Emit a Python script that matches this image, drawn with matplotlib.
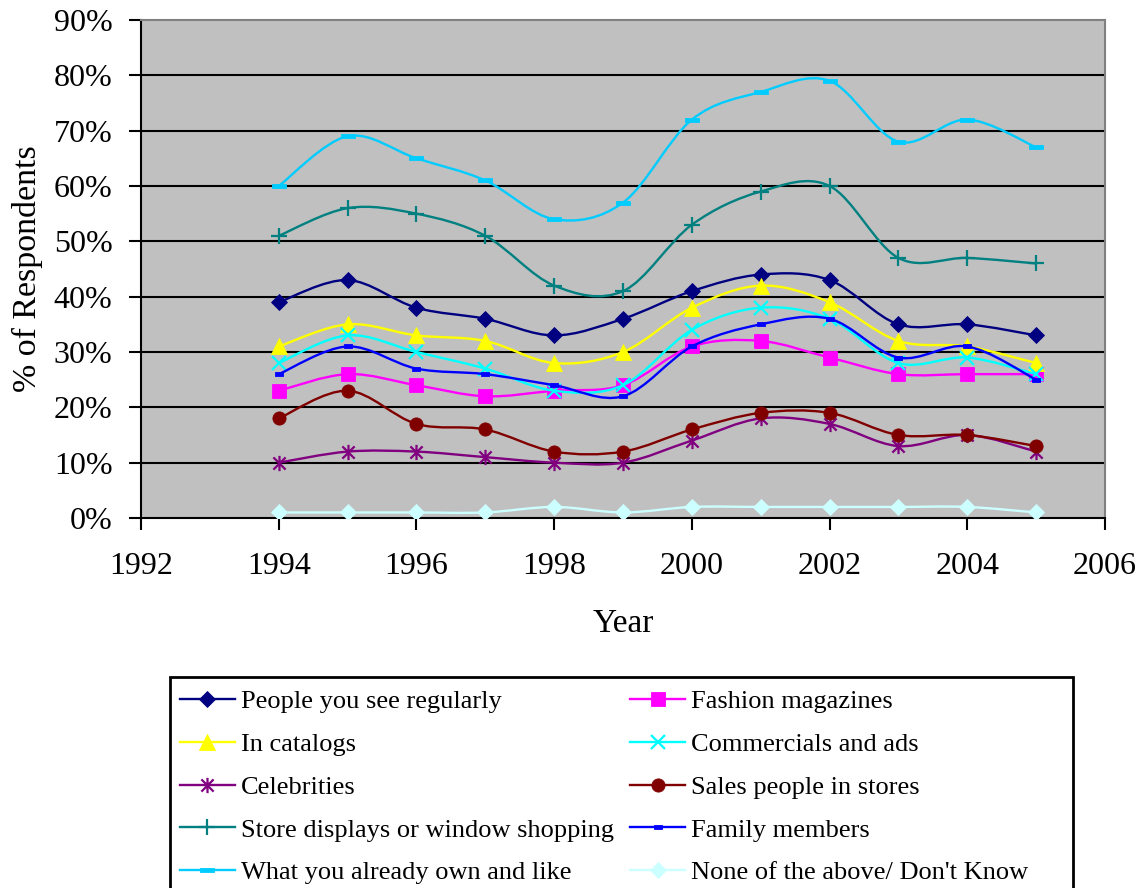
import numpy as np
import matplotlib
matplotlib.use("Agg")
import matplotlib.pyplot as plt
from matplotlib.path import Path
from matplotlib.patches import PathPatch, Rectangle
from matplotlib.lines import Line2D

plt.rcParams['font.family'] = 'Liberation Serif'

years = [1994, 1995, 1996, 1997, 1998, 1999, 2000, 2001, 2002, 2003, 2004, 2005]

people_regularly = [39, 43, 38, 36, 33, 36, 41, 44, 43, 35, 35, 33]
fashion_magazines = [23, 26, 24, 22, 23, 24, 31, 32, 29, 26, 26, 26]
in_catalogs = [31, 35, 33, 32, 28, 30, 38, 42, 39, 32, 31, 28]
commercials_ads = [28, 33, 30, 27, 23, 24, 34, 38, 36, 28, 29, 26]
celebrities = [10, 12, 12, 11, 10, 10, 14, 18, 17, 13, 15, 12]
sales_people = [18, 23, 17, 16, 12, 12, 16, 19, 19, 15, 15, 13]
store_displays = [51, 56, 55, 51, 42, 41, 53, 59, 60, 47, 47, 46]
family_members = [26, 31, 27, 26, 24, 22, 31, 35, 36, 29, 31, 25]
already_own = [60, 69, 65, 61, 54, 57, 72, 77, 79, 68, 72, 67]
none_dont_know = [1, 1, 1, 1, 2, 1, 2, 2, 2, 2, 2, 1]

# custom marker shapes
star = Path([(0, -1), (0, 1), (-0.8, -0.8), (0.8, 0.8), (-0.8, 0.8), (0.8, -0.8)],
            [Path.MOVETO, Path.LINETO] * 3)
small_dash = Path([(-1, -0.45), (1, -0.45), (1, 0.45), (-1, 0.45), (-1, -0.45)],
                  [Path.MOVETO, Path.LINETO, Path.LINETO, Path.LINETO, Path.CLOSEPOLY])
long_dash = Path([(-1.6, -0.5), (1.6, -0.5), (1.6, 0.5), (-1.6, 0.5), (-1.6, -0.5)],
                 [Path.MOVETO, Path.LINETO, Path.LINETO, Path.LINETO, Path.CLOSEPOLY])

# (label, values, color, marker, size, filled)
series = [
    ("People you see regularly", people_regularly, "#000080", "D", 8, True),
    ("Fashion magazines", fashion_magazines, "#FF00FF", "s", 9.5, True),
    ("In catalogs", in_catalogs, "#FFFF00", "^", 11, True),
    ("Commercials and ads", commercials_ads, "#00FFFF", "x", 10, False),
    ("Celebrities", celebrities, "#800080", star, 11, False),
    ("Sales people in stores", sales_people, "#800000", "o", 9.5, True),
    ("Store displays or window shopping", store_displays, "#008080", "+", 11, False),
    ("Family members", family_members, "#0000FF", small_dash, 6, True),
    ("What you already own and like", already_own, "#00CCFF", long_dash, 10, True),
    ("None of the above/ Don't Know", none_dont_know, "#CCFFFF", "D", 8, True),
]


def smooth_path(x, y):
    # Catmull-Rom style bezier through every point
    pts = np.column_stack([x, y]).astype(float)
    ext = np.vstack([pts[0], pts, pts[-1]])
    verts = [pts[0]]
    codes = [Path.MOVETO]
    for i in range(len(pts) - 1):
        p0, p1, p2, p3 = ext[i], ext[i + 1], ext[i + 2], ext[i + 3]
        verts += [p1 + (p2 - p0) / 6, p2 - (p3 - p1) / 6, p2]
        codes += [Path.CURVE4] * 3
    return Path(verts, codes)


fig = plt.figure(figsize=(11.44, 8.88), dpi=100)
ax = fig.add_axes([141 / 1144, 1 - 518 / 888, 964 / 1144, 498 / 888])
ax.set_facecolor("#C0C0C0")

for v in range(10, 90, 10):
    ax.axhline(v, color="black", lw=1.5, zorder=1)

handles = []
for i, (label, vals, color, marker, ms, filled) in enumerate(series):
    ax.add_patch(PathPatch(smooth_path(years, vals), fill=False, edgecolor=color,
                           lw=1.7, zorder=3 + i))
    style = dict(color=color, marker=marker, markersize=ms,
                 markerfacecolor=color if filled else "none",
                 markeredgecolor=color, markeredgewidth=0.6 if filled else 1.6)
    ax.plot(years, vals, linestyle="none", zorder=3 + i, **style)
    handles.append(Line2D([], [], lw=1.7, **style))

ax.set_xlim(1992, 2006)
ax.set_ylim(0, 90)
ax.set_xticks(range(1992, 2007, 2))
ax.set_yticks(range(0, 91, 10))
ax.set_yticklabels([f"{v}%" for v in range(0, 91, 10)])
ax.tick_params(direction="out", length=8.5, width=1.5, labelsize=23, color="black")
ax.tick_params(axis="y", pad=12)
ax.tick_params(axis="x", pad=16)

for side in ("left", "bottom"):
    ax.spines[side].set_color("black")
    ax.spines[side].set_linewidth(1.5)
for side in ("top", "right"):
    ax.spines[side].set_color("#808080")
    ax.spines[side].set_linewidth(1.5)

ax.set_xlabel("Year", fontsize=24, labelpad=20)
ax.set_ylabel("% of Respondents", fontsize=24.5, labelpad=8)

# legend: Excel fills rows first, matplotlib fills columns first
labels = [s[0] for s in series]
order = [0, 2, 4, 6, 8, 1, 3, 5, 7, 9]
fig.legend([handles[k] for k in order], [labels[k] for k in order],
           loc="upper left", bbox_to_anchor=(180 / 1144, 1 - 690 / 888),
           ncol=2, frameon=False, fontsize=19, borderpad=0, borderaxespad=0,
           handlelength=2.08, handletextpad=0.23, columnspacing=0.61,
           labelspacing=0.73)
fig.add_artist(Rectangle((170 / 1144, 1 - 910 / 888), 903 / 1144, 233 / 888,
                         transform=fig.transFigure, fill=False,
                         edgecolor="black", lw=2))

fig.savefig("out.png", dpi=100)
